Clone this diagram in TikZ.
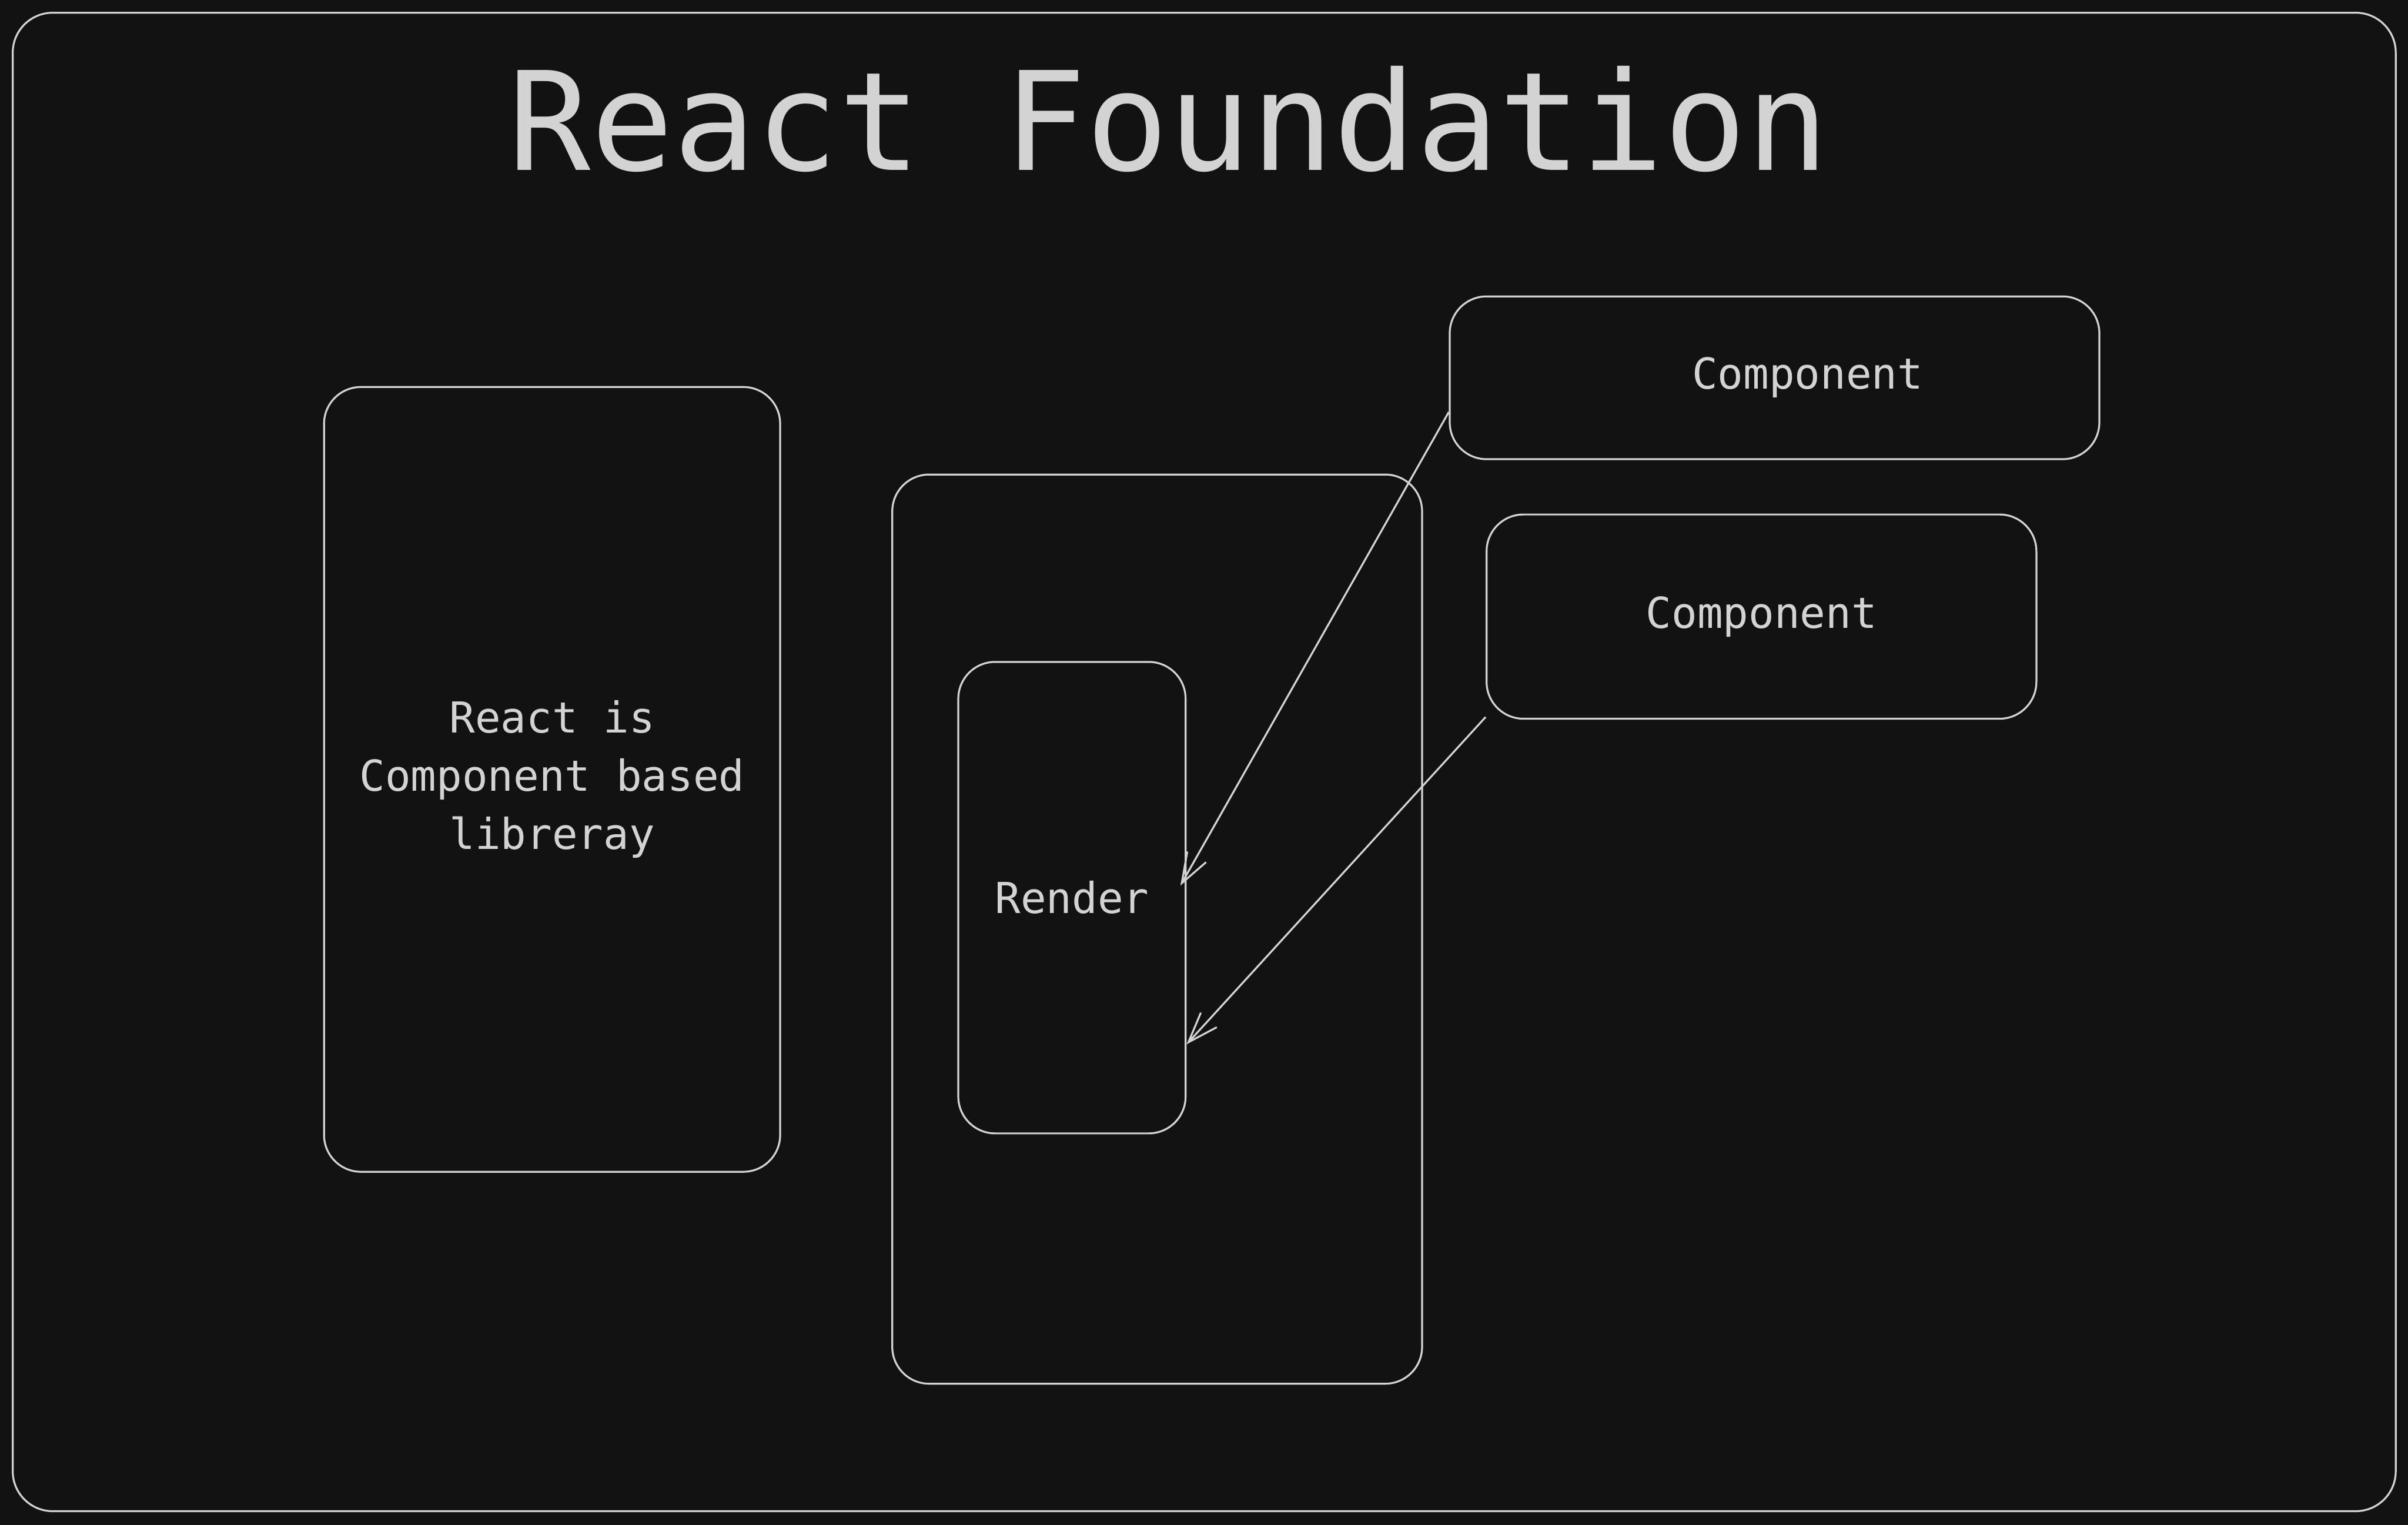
\documentclass[tikz,border=0pt]{standalone}
\usepackage{fontspec}
\setmainfont{DejaVu Sans Mono}
\usepackage{tikz}
\usetikzlibrary{arrows.meta}

\definecolor{canvas}{HTML}{121212}
\definecolor{chalk}{HTML}{D3D3D3}

\begin{document}
\begin{tikzpicture}[
    >={Straight Barb[length=5.6pt, width=4pt]},
    line width=0.35pt,
    box/.style={draw=chalk, rounded corners=0.24cm, inner sep=0pt, text=chalk, align=center, font=\fontsize{7.9}{10.8}\selectfont},
    txt/.style={text=chalk, font=\fontsize{7.9}{10.8}\selectfont},
    link/.style={->, draw=chalk},
]
    % fundo escuro e moldura
    \fill[canvas] (0, 0) rectangle (15.68, -9.93);
    \useasboundingbox (0, 0) rectangle (15.68, -9.93);
    \draw[chalk, rounded corners=0.26cm] (0.083, -0.083) rectangle (15.60, -9.84);

    \node[text=chalk, anchor=base, font=\fontsize{25.4}{30}\selectfont] (title) at (7.61, -1.11) {React Foundation};

    % caixa da esquerda
    \node[box, minimum width=2.97cm, minimum height=5.11cm] (intro) at (3.595, -5.075) {React is\\Component based\\libreray};

    % caixa do meio com o render
    \node[box, minimum width=3.45cm, minimum height=5.92cm] (host) at (7.535, -6.05) {};
    \node[box, minimum width=1.48cm, minimum height=3.07cm] (render) at (6.98, -5.845) {Render};

    % componentes
    \node[box, minimum width=4.23cm, minimum height=1.06cm] (comp1) at (11.555, -2.46) {};
    \node[txt] (comp1txt) at (11.77, -2.46) {Component};
    \node[box, minimum width=3.58cm, minimum height=1.33cm] (comp2) at (11.47, -4.015) {Component};

    \draw[link] (comp1.186) -- ([xshift=-0.4mm]render.6);
    \draw[link] (comp2.200.5) -- (render.308);

\end{tikzpicture}
\end{document}
